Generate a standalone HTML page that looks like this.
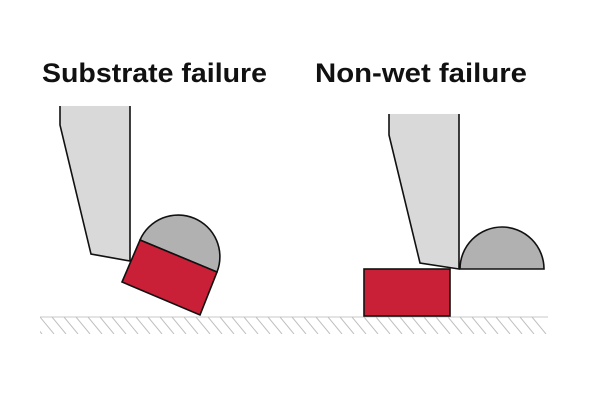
<!DOCTYPE html>
<html><head><style>html,body{margin:0;padding:0;background:#fff}svg{display:block}</style></head>
<body>
<svg width="600" height="400" viewBox="0 0 600 400" xmlns="http://www.w3.org/2000/svg">
<defs>
<clipPath id="c"><rect x="40" y="317" width="510" height="17"/></clipPath>
</defs>
<g font-family="Liberation Sans, sans-serif" font-weight="bold" font-size="27" fill="#111">
<text x="42" y="82" textLength="225" lengthAdjust="spacingAndGlyphs">Substrate failure</text>
<text x="315" y="82" textLength="212" lengthAdjust="spacingAndGlyphs">Non-wet failure</text>
</g>
<line x1="40" y1="317" x2="548" y2="317" stroke="#c8c8c8" stroke-width="1"/>
<g clip-path="url(#c)">
<g stroke="#c0c0c0" stroke-width="1">
<path d="M28 317l14 17M40 317l14 17M52 317l14 17M64 317l14 17M76 317l14 17M88 317l14 17M100 317l14 17M112 317l14 17M124 317l14 17M136 317l14 17M148 317l14 17M160 317l14 17M172 317l14 17M184 317l14 17M196 317l14 17M208 317l14 17M220 317l14 17M232 317l14 17M244 317l14 17M256 317l14 17M268 317l14 17M280 317l14 17M292 317l14 17M304 317l14 17M316 317l14 17M328 317l14 17M340 317l14 17M352 317l14 17M364 317l14 17M376 317l14 17M388 317l14 17M400 317l14 17M412 317l14 17M424 317l14 17M436 317l14 17M448 317l14 17M460 317l14 17M472 317l14 17M484 317l14 17M496 317l14 17M508 317l14 17M520 317l14 17M532 317l14 17"/>
</g></g>
<!-- left -->
<path d="M60 106 L60 125 L91 254 L130 261 L130 106 Z" fill="#d9d9d9"/>
<path d="M60 106 L60 125 L91 254 L130 261 L130 106" fill="none" stroke="#111" stroke-width="1.6"/>
<path d="M140 240 A41.7 41.7 0 0 1 217 272 Z" fill="#b1b1b1" stroke="#111" stroke-width="1.6"/>
<path d="M140 240 L217 272 L200 315 L122 282 Z" fill="#c91f37" stroke="#111" stroke-width="1.6"/>
<!-- right -->
<path d="M389 114 L389 135 L420 263 L459 269 L459 114 Z" fill="#d9d9d9"/>
<path d="M389 114 L389 135 L420 263 L459 269 L459 114" fill="none" stroke="#111" stroke-width="1.6"/>
<path d="M460 269 A42 42 0 0 1 544 269 Z" fill="#b1b1b1" stroke="#111" stroke-width="1.6"/>
<rect x="364" y="269" width="86" height="47" fill="#c91f37" stroke="#111" stroke-width="1.6"/>
</svg>
</body></html>
